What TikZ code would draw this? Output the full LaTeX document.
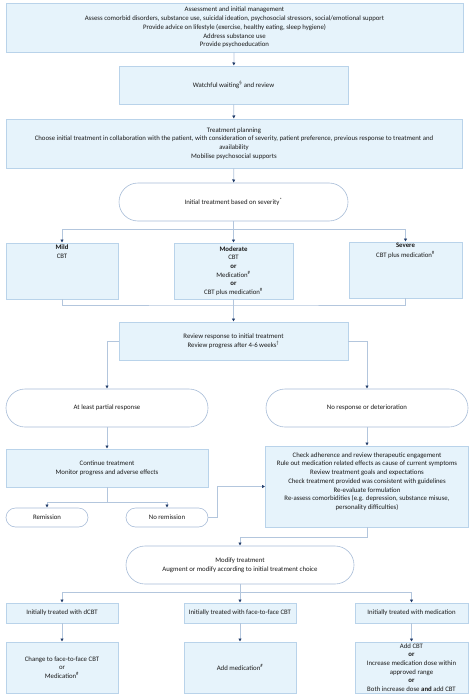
\documentclass[tikz,border=0pt]{standalone}
\usepackage{fontspec}
\setmainfont{Carlito}
\usetikzlibrary{arrows.meta}
\definecolor{boxfill}{HTML}{E6F3FB}
\definecolor{boxline}{HTML}{B9D3EA}
\definecolor{pillline}{HTML}{A8BDD8}
\definecolor{conn}{HTML}{B3C6DD}
\definecolor{tipc}{HTML}{1F3A68}
\definecolor{txt}{HTML}{1A1A1A}
\begin{document}
\begin{tikzpicture}[x=1pt,y=-1pt,
  font=\fontsize{6.8}{8.7}\selectfont, text=txt,
  bx/.style={draw=boxline, fill=boxfill, line width=0.6pt, align=center, inner sep=1pt},
  topbx/.style={draw=boxline, fill=boxfill, line width=0.6pt, inner sep=0pt},
  pill/.style={draw=pillline, fill=white, line width=0.6pt, rounded corners=19pt, align=center, inner sep=1pt},
  ln/.style={draw=conn, line width=0.7pt},
  arr/.style={ln, -{Latex[length=3.2pt,width=3.4pt,color=tipc]}}
]
\fill[white] (0,0) rectangle (474,698);
\useasboundingbox (0,0) rectangle (474,698);

\node[bx, minimum width=457pt, minimum height=49pt] (assess) at (234.5,27.5)
  {Assessment and initial management\\
   Assess comorbid disorders, substance use, suicidal ideation, psychosocial stressors, social/emotional support\\
   Provide advice on lifestyle (exercise, healthy eating, sleep hygiene)\\
   Address substance use\\
   Provide psychoeducation};
\node[bx, minimum width=229pt, minimum height=38pt] (wait) at (233.5,85)
  {Watchful waiting\textsuperscript{§} and review};
\node[bx, minimum width=456pt, minimum height=49pt] (plan) at (234,143.5)
  {Treatment planning\\
   Choose initial treatment in collaboration with the patient, with consideration of severity, patient preference, previous response to treatment and\\
   availability\\
   Mobilise psychosocial supports};
\node[pill, minimum width=229pt, minimum height=38pt] (sev) at (233.5,202)
  {Initial treatment based on severity\textsuperscript{*}};

\node[topbx] (mild) at (62,271)
  {\parbox[t][56pt][t]{112pt}{\centering\vspace*{2pt}\textbf{Mild}\\[0.5pt] CBT}};
\node[bx, minimum width=119pt, minimum height=56pt] (mod) at (233.5,271)
  {\textbf{Moderate}\\ CBT\\ \textbf{or}\\ Medication\textsuperscript{\#}\\ \textbf{or}\\ CBT plus medication\textsuperscript{\#}};
\node[topbx] (severe) at (405.5,270)
  {\parbox[t][56pt][t]{113pt}{\centering\vspace*{1.5pt}\textbf{Severe}\\[1.2pt] CBT plus medication\textsuperscript{\#}}};

\node[bx, minimum width=229pt, minimum height=38pt] (review) at (233.5,341)
  {Review response to initial treatment\\ Review progress after 4-6 weeks\textsuperscript{†}};

\node[pill, minimum width=202pt, minimum height=38pt] (partial) at (107,408) {At least partial response};
\node[pill, minimum width=202pt, minimum height=38pt] (noresp) at (367,408) {No response or deterioration};

\node[bx, minimum width=202pt, minimum height=38pt] (cont) at (107,468)
  {Continue treatment\\ Monitor progress and adverse effects};
\node[topbx] (check) at (367,486.5)
  {\parbox[t][81pt][t]{203pt}{\centering\vspace*{6.5pt}Check adherence and review therapeutic engagement\\
   Rule out medication related effects as cause of current symptoms\\
   Review treatment goals and expectations\\
   Check treatment provided was consistent with guidelines\\
   Re-evaluate formulation\\
   Re-assess comorbidities (e.g. depression, substance misuse,\\
   personality difficulties)}};

\node[pill, rounded corners=9.5pt, minimum width=82pt, minimum height=19pt] (rem) at (47,517.5) {Remission};
\node[pill, rounded corners=9.5pt, minimum width=82pt, minimum height=19pt] (norem) at (167,517.5) {No remission};

\node[pill, minimum width=228pt, minimum height=38pt] (modify) at (240,565)
  {Modify treatment\\ Augment or modify according to initial treatment choice};

\node[bx, minimum width=112pt, minimum height=20pt] (r1) at (62,613) {Initially treated with dCBT};
\node[bx, minimum width=112pt, minimum height=20pt] (r2) at (240,613) {Initially treated with face-to-face CBT};
\node[bx, minimum width=113pt, minimum height=20pt] (r3) at (411.5,613) {Initially treated with medication};

\node[bx, minimum width=112pt, minimum height=51pt] (b1) at (62,667.5)
  {Change to face-to-face CBT\\ or\\ Medication\textsuperscript{\#}};
\node[bx, minimum width=112pt, minimum height=51pt] (b2) at (240,667.5)
  {Add medication\textsuperscript{\#}};
\node[bx, inner sep=0pt, minimum width=113pt, minimum height=51pt] (b3) at (411.5,667.5)
  {Add CBT\\ \textbf{or}\\ Increase medication dose within\\ approved range\\ \textbf{or}\\ Both increase dose \textbf{and} add CBT};

\coordinate (j1) at (233.5,229);
\coordinate (j2) at (233.5,305);
\coordinate (j3) at (107,502);
\coordinate (j4) at (240,537);
\coordinate (j5) at (240,592);

\draw[arr] (assess) -- (wait);
\draw[arr] (wait) -- (plan);
\draw[arr] (plan) -- (sev);
\draw[ln] (sev.south) -- (j1);
\draw[arr] (j1) -| (mild.north);
\draw[arr] (j1) -- (mod.north);
\draw[arr] (j1) -| (severe.north);
\draw[ln] (mild.south) |- (j2) -| (severe.south);
\draw[arr] (mod.south) -- (review.north);
\draw[arr] (review.west) -| (partial.north);
\draw[arr] (review.east) -| (noresp.north);
\draw[arr] (partial.south) -- (cont.north);
\draw[arr] (noresp.south) -- (check.north);
\draw[ln] (cont.south) -- (j3);
\draw[arr] (j3) -| (rem.north);
\draw[arr] (j3) -| (norem.north);
\draw[arr] (norem.east) -- ++(9,0) |- (check.west);
\draw[ln] (check.south) |- (j4);
\draw[arr] (j4) -- (modify.north);
\draw[ln] (modify.south) -- (j5);
\draw[arr] (j5) -| (r1.north);
\draw[arr] (j5) -- (r2.north);
\draw[arr] (j5) -| (r3.north);
\draw[arr] (r1) -- (b1);
\draw[arr] (r2) -- (b2);
\draw[arr] (r3) -- (b3);
\end{tikzpicture}
\end{document}
